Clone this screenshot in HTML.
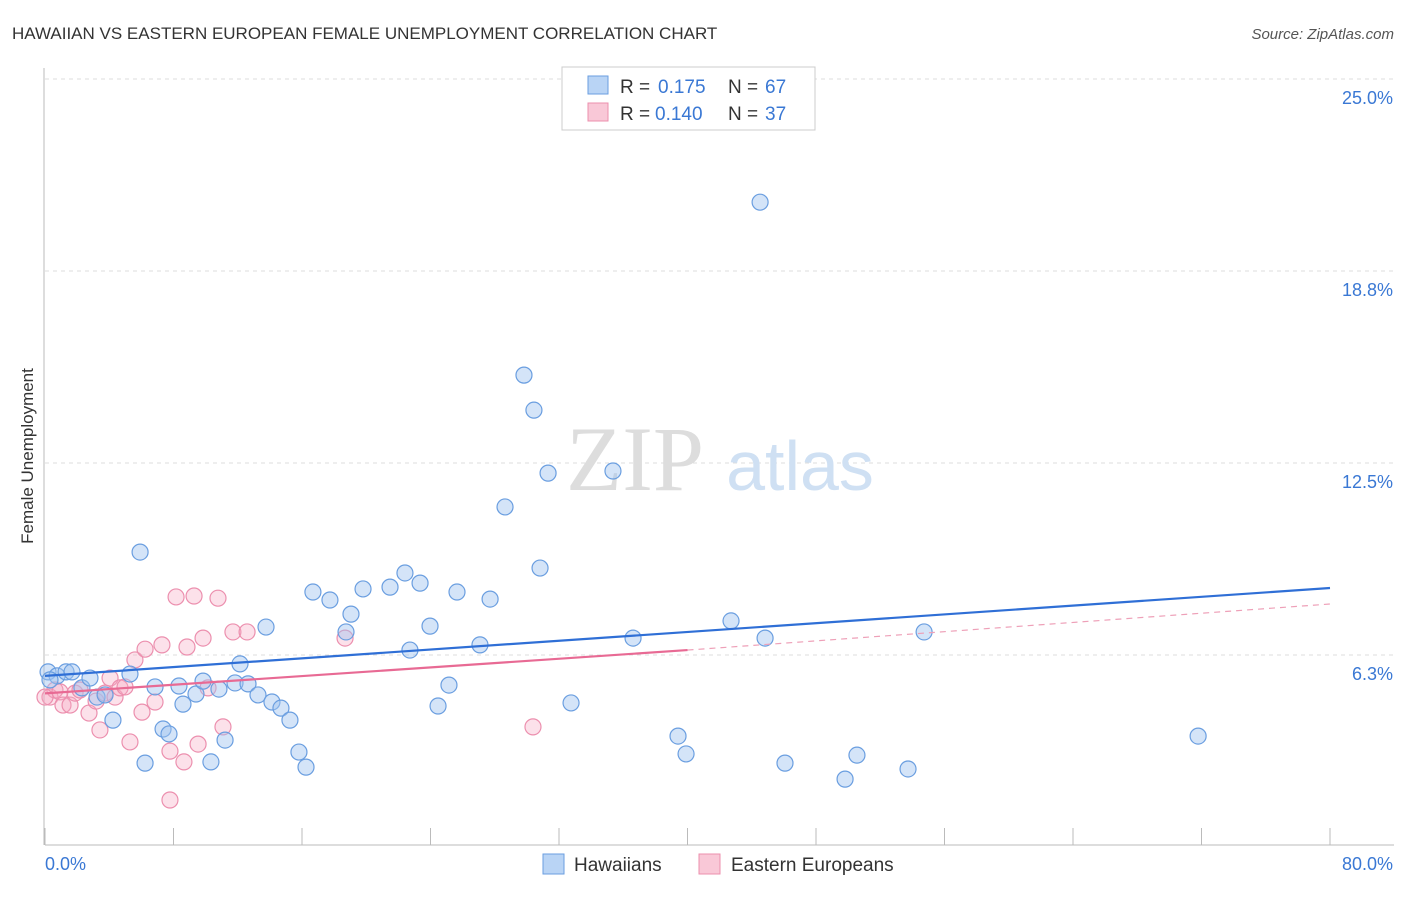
<!DOCTYPE html>
<html><head><meta charset="utf-8"><style>
body{margin:0;background:#fff;font-family:"Liberation Sans",sans-serif;}
svg text{font-family:"Liberation Sans",sans-serif;}
</style></head><body>
<svg id="chart" width="1406" height="892">
<text x="12" y="39" font-size="17" fill="#333">HAWAIIAN VS EASTERN EUROPEAN FEMALE UNEMPLOYMENT CORRELATION CHART</text>
<text x="1394" y="39" font-size="15" fill="#555" font-style="italic" text-anchor="end">Source: ZipAtlas.com</text>
<text x="33" y="456" font-size="17" fill="#333" text-anchor="middle" transform="rotate(-90 33 456)">Female Unemployment</text>
<g id="grid"></g>
<text x="635" y="490" font-size="92" fill="#ddd" style="font-family:'Liberation Serif',serif" text-anchor="middle">ZIP</text>
<text x="800" y="490" font-size="70" fill="#cfe0f3" text-anchor="middle">atlas</text>
<g id="marks"></g>
<g>
<rect x="562" y="67" width="253" height="63" fill="#fff" stroke="#ccc"/>
<rect x="588" y="76" width="20" height="18" fill="#b9d4f5" stroke="#6a9ee0"/>
<text x="620" y="93" font-size="19" fill="#333">R = </text><text x="658" y="93" font-size="19" fill="#3a78d4">0.175</text>
<text x="728" y="93" font-size="19" fill="#333">N = </text><text x="765" y="93" font-size="19" fill="#3a78d4">67</text>
<rect x="588" y="103" width="20" height="18" fill="#f9c8d7" stroke="#ec8fae"/>
<text x="620" y="120" font-size="19" fill="#333">R = </text><text x="655" y="120" font-size="19" fill="#3a78d4">0.140</text>
<text x="728" y="120" font-size="19" fill="#333">N = </text><text x="765" y="120" font-size="19" fill="#3a78d4">37</text>
</g>
<g>
<rect x="543" y="854" width="21" height="20" fill="#b9d4f5" stroke="#6a9ee0"/>
<text x="574" y="871" font-size="19" fill="#333">Hawaiians</text>
<rect x="699" y="854" width="21" height="20" fill="#f9c8d7" stroke="#ec8fae"/>
<text x="731" y="871" font-size="19" fill="#333">Eastern Europeans</text>
</g>
</svg>
<script>
const yTicks=[6.25,12.5,18.75,25];
const yTickLabels=["6.3%","12.5%","18.8%","25.0%"];
const xTickVals=[0,8,16,24,32,40,48,56,64,72,80];
const blueX=[0.19,0.75,1.31,1.68,2.30,2.80,3.24,3.74,4.23,5.29,5.92,6.23,6.85,7.35,7.72,8.34,8.59,9.40,9.84,10.33,10.83,11.21,11.83,12.14,12.64,13.26,13.76,14.13,14.69,15.25,15.81,16.25,16.68,17.74,18.74,19.05,19.80,21.48,22.41,22.72,23.35,23.97,24.47,25.15,25.65,27.08,27.71,28.64,29.82,30.44,30.82,31.32,32.75,35.36,36.61,39.41,39.91,42.71,44.52,44.83,46.07,49.81,50.55,53.73,54.73,71.79,0.31];
const blueY=[5.70,5.57,5.70,5.70,5.18,5.50,4.88,4.95,4.13,5.63,9.60,2.73,5.21,3.84,3.68,5.24,4.65,4.98,5.40,2.77,5.14,3.48,5.34,5.96,5.31,4.95,7.16,4.72,4.52,4.13,3.09,2.60,8.30,8.04,7.00,7.58,8.40,8.46,8.92,6.41,8.59,7.19,4.59,5.27,8.30,6.58,8.07,11.07,15.36,14.22,9.08,12.17,4.69,12.24,6.80,3.61,3.03,7.36,20.99,6.80,2.73,2.21,2.99,2.54,7.00,3.61,5.44];
const pinkX=[0.31,0.62,0.93,1.12,1.56,1.87,2.18,2.74,3.18,3.42,3.74,4.05,4.36,4.67,4.98,5.29,5.60,6.04,6.23,6.85,7.28,7.78,7.78,8.16,8.65,8.84,9.28,9.53,9.84,10.15,10.77,11.08,11.70,12.58,18.68,30.38,0];
const pinkY=[4.88,5.11,5.05,4.62,4.62,5.01,5.11,4.36,4.75,3.81,5.01,5.50,4.88,5.18,5.21,3.42,6.09,4.39,6.44,4.72,6.58,3.12,1.53,8.14,2.77,6.51,8.17,3.35,6.80,5.18,8.10,3.91,7.00,7.00,6.80,3.91,4.88];
const blueLine=[5.57,8.43];
const pinkLine=[5.0,6.41,7.91];

const X=v=>45+v/80*1285;
const Y=v=>847-v*30.72;
const NS="http://www.w3.org/2000/svg";
function mk(tag,attrs,parent){const e=document.createElementNS(NS,tag);for(const k in attrs)e.setAttribute(k,attrs[k]);parent.appendChild(e);return e;}
const grid=document.getElementById('grid'),marks=document.getElementById('marks');
yTicks.forEach((t,i)=>{
  const l=mk('line',{x1:45,x2:1394,y1:Y(t),y2:Y(t),stroke:'#ddd','stroke-dasharray':'4,4'},grid);
  
  
  const tx=mk('text',{x:1393,y:Y(t)+25,'font-size':18,fill:'#3a78d4','text-anchor':'end'},grid);
  tx.textContent=yTickLabels[i];
  
  
});
const ax=mk('line',{x1:45,x2:1394,y1:845,y2:845,stroke:'#bbb'},grid);


const ay=mk('line',{x1:44,x2:44,y1:68,y2:845,stroke:'#bbb'},grid);


xTickVals.forEach(t=>{
  const l=mk('line',{x1:X(t),x2:X(t),y1:828,y2:845,stroke:'#bbb'},grid);
  
  
});
const xl0=mk('text',{x:45,y:870,'font-size':18,fill:'#3a78d4'},grid);xl0.textContent='0.0%';


const xl1=mk('text',{x:1393,y:870,'font-size':18,fill:'#3a78d4','text-anchor':'end'},grid);xl1.textContent='80.0%';


pinkX.forEach((x,i)=>{
  const c=mk('circle',{cx:X(x),cy:Y(pinkY[i]),r:8,fill:'rgba(246,170,195,0.35)',stroke:'#ec8fae','stroke-width':1.2},marks);
  
  
});
blueX.forEach((x,i)=>{
  const c=mk('circle',{cx:X(x),cy:Y(blueY[i]),r:8,fill:'rgba(160,196,240,0.45)',stroke:'#6a9ee0','stroke-width':1.2},marks);
  
  
});
const bl=mk('line',{x1:X(0),y1:Y(blueLine[0]),x2:X(80),y2:Y(blueLine[1]),stroke:'#2f6fd6','stroke-width':2.2},marks);


const pl=mk('line',{x1:X(0),y1:Y(pinkLine[0]),x2:X(40),y2:Y(pinkLine[1]),stroke:'#e86a94','stroke-width':2.2},marks);


const pd=mk('line',{x1:X(40),y1:Y(pinkLine[1]),x2:X(80),y2:Y(pinkLine[2]),stroke:'#eea0b8','stroke-width':1.2,'stroke-dasharray':'6,5'},marks);


</script>
</body></html>
